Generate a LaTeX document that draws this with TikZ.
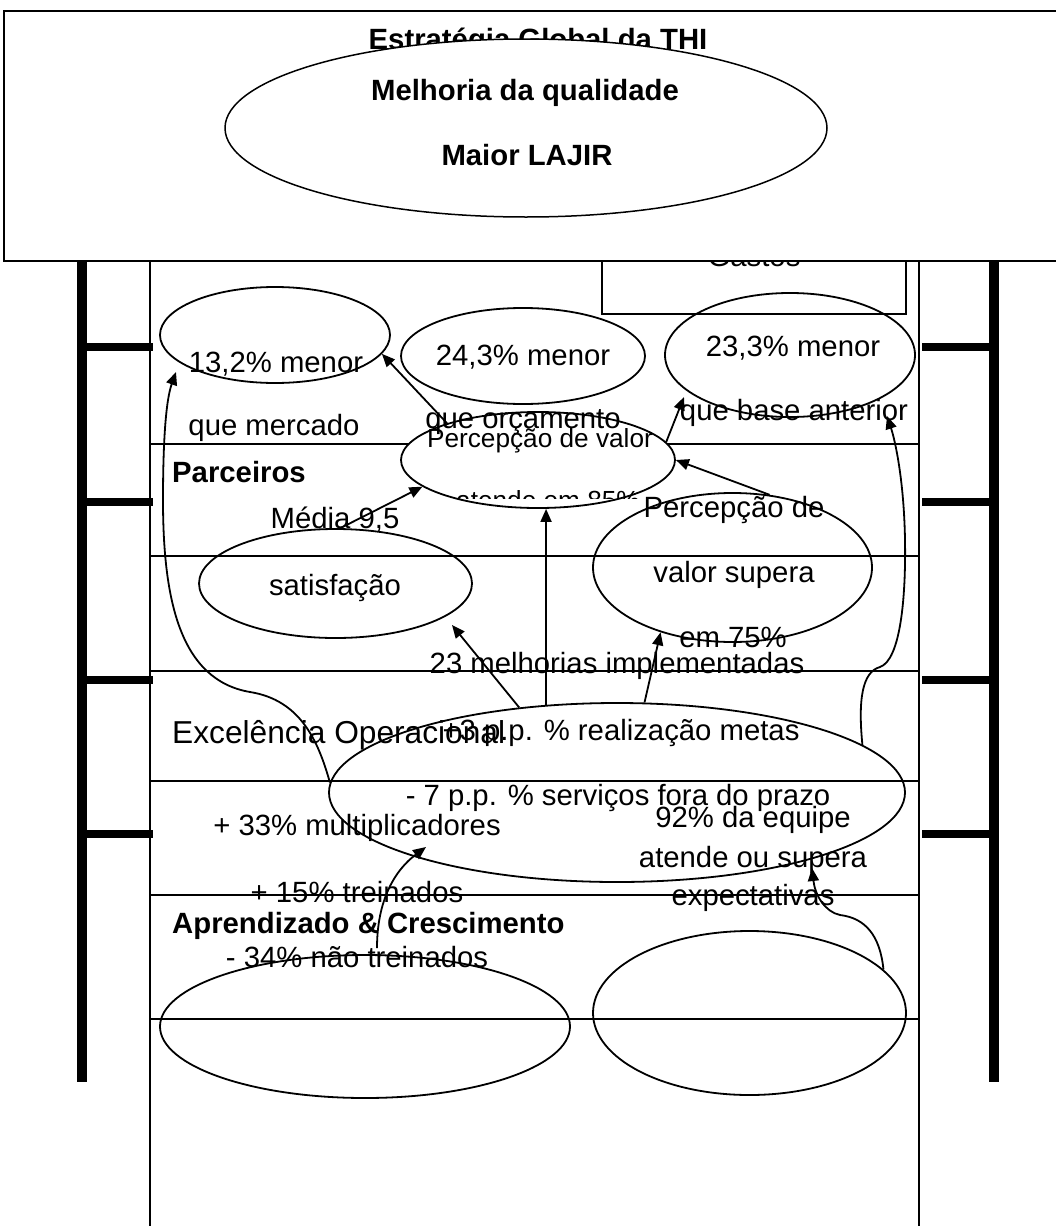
\documentclass[tikz,border=0pt]{standalone}
\usepackage{fontspec}
\setmainfont{Liberation Sans}
\usetikzlibrary{shapes.geometric,arrows.meta}
\begin{document}
\begin{tikzpicture}[x=1pt,y=-1pt,
  ell/.style={ellipse,draw,line width=1.8pt,inner sep=0pt},
  txt/.style={anchor=base,inner sep=0pt,font=\fontsize{29.3}{35}\selectfont},
  smalltxt/.style={anchor=base,inner sep=0pt,font=\fontsize{26.2}{31}\selectfont},
  btxt/.style={anchor=base,inner sep=0pt,font=\fontsize{29.3}{35}\selectfont\bfseries},
  bwtxt/.style={anchor=base west,inner sep=0pt,font=\fontsize{29.3}{35}\selectfont\bfseries},
  arr/.style={line width=1.8pt,-{Triangle[length=13pt,width=11pt]}},
  frameline/.style={line width=2.2pt},
]
\clip (0,0) rectangle (1056,1226);
% frame
\draw[line width=1.6pt] (150,261) -- (150,1226);
\draw[line width=1.6pt] (919,261) -- (919,1226);
\foreach \yy in {444,556,671,781,895,1019} \draw[frameline] (150,\yy) -- (919,\yy);
% thick bars
\fill (77,261) rectangle (87,1082);
\fill (989,261) rectangle (999,1082);
\foreach \yy in {347,502,680,834} {
  \fill (87,\yy-4) rectangle (153,\yy+4);
  \fill (922,\yy-4) rectangle (989,\yy+4);
}
% Gastos box
\node[txt] (gastos) at (754,266) {Gastos};
\draw[line width=1.8pt] (602,255) rectangle (906,314);
% top box
\draw[line width=1.5pt,fill=white] (4,11) rectangle (1070,261);
\node[btxt] (title) at (538,49) {Estratégia Global da THI};
\node[ell,line width=1.5pt,fill=white,minimum width=602pt,minimum height=178pt] (E0) at (526,128) {};
\node[btxt] (t0a) at (525,100) {Melhoria da qualidade};
\node[btxt] (t0b) at (527,165) {Maior LAJIR};
% ellipses
\node[ell,minimum width=230pt,minimum height=96pt] (E1) at (275,335) {};
\node[ell,minimum width=244pt,minimum height=96pt] (E2) at (523,356) {};
\node[ell,minimum width=250pt,minimum height=124pt] (E3) at (790,355) {};
\node[ell,fill=white,minimum width=274pt,minimum height=96pt] (E4) at (538,460) {};
\node[ell,minimum width=273pt,minimum height=109pt] (E5) at (335.5,583.5) {};
\node[ell,minimum width=279pt,minimum height=149pt] (E6) at (732.5,567.5) {};
\node[ell,minimum width=576pt,minimum height=179pt] (E7) at (617,792.5) {};
\node[ell,minimum width=410pt,minimum height=143pt] (E8) at (365,1026.5) {};
\node[ell,minimum width=313pt,minimum height=164pt] (E9) at (749.5,1013) {};
% texts
\node[txt] (t1a) at (276,372) {13,2\% menor};
\node[txt] (t1b) at (274,435) {que mercado};
\node[txt] (t2a) at (523,365) {24,3\% menor};
\node[txt] (t2b) at (523,428) {que orçamento};
\node[txt] (t3a) at (793,356) {23,3\% menor};
\node[txt] (t3b) at (794,420) {que base anterior};
\node[smalltxt] (t4a) at (540,447) {Percepção de valor};
\begin{scope}
  \clip (401,412) rectangle (675,498);
  \node[smalltxt] (t4b) at (548,509) {atende em 85\%};
\end{scope}
\node[bwtxt] (parc) at (172,482) {Parceiros};
\node[txt] (t5a) at (335,528) {Média 9,5};
\node[txt] (t5b) at (335,595) {satisfação};
\node[txt] (t6a) at (734,517) {Percepção de};
\node[txt] (t6b) at (734,582) {valor supera};
\node[txt] (t6c) at (733,647) {em 75\%};
\node[txt] (t7m) at (617,673) {23 melhorias implementadas};
\node[anchor=base west,inner sep=0pt,font=\fontsize{31.7}{38}\selectfont] (exc) at (172,743) {Excelência Operacional};
\node[txt] (t7a) at (621,740) {+3 p.p. \% realização metas};
\node[txt] (t7b) at (618,805) {- 7 p.p. \% serviços fora do prazo};
\node[txt] (t9a) at (753,827) {92\% da equipe};
\node[txt] (t9b) at (753,867) {atende ou supera};
\node[txt] (t9c) at (753,905) {expectativas};
\node[txt] (t8a) at (357,835) {+ 33\% multiplicadores};
\node[txt] (t8b) at (357,902) {+ 15\% treinados};
\node[bwtxt] (apr) at (172,933) {Aprendizado \& Crescimento};
\node[txt] (t8c) at (357,967) {- 34\% não treinados};
% free arrow ends
\coordinate (c6) at (452,625);
\coordinate (c8) at (684,397);
\coordinate (c2) at (887,416);
\coordinate (c1) at (176,372);
\coordinate (c10a) at (377,948);
\coordinate (c10) at (426,847);
\coordinate (c11) at (812,868);
% straight arrows
\draw[arr] (E4.158.6) -- (E1.-10);
\draw[arr] (E5.85) -- (E4.-167);
\draw[arr] (E7.129.4) -- (E7.129.4 |- E4.south);
\draw[arr] (E7.139) -- (c6);
\draw[arr] (E7.73.7) -- (E6.-138);
\draw[arr] (E4.8) -- (c8);
\draw[arr] (E6.63.8) -- (E4.east);
% curved arrows
\draw[arr] (E7.178) .. controls (318,740) and (300,700) .. (250,692)
  .. controls (180,680) and (163,600) .. (163,500)
  .. controls (163,440) and (166,400) .. (c1);
\draw[arr] (E7.11) .. controls (858,700) and (862,672) .. (880,667)
  .. controls (900,660) and (906,600) .. (905,540)
  .. controls (904,480) and (895,440) .. (c2);
\draw[arr] (c10a) .. controls (377,900) and (395,870) .. (c10);
\draw[arr] (E9.18) .. controls (880,935) and (865,918) .. (840,915)
  .. controls (825,912) and (815,895) .. (c11);
\end{tikzpicture}
\end{document}
